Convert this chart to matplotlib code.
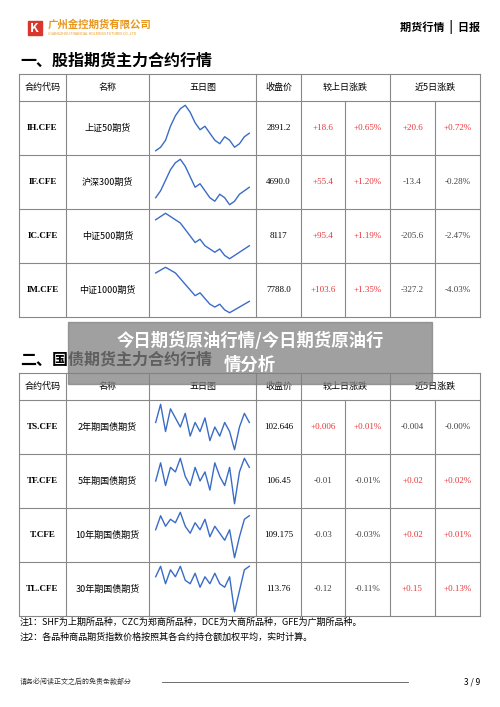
import matplotlib
matplotlib.use('Agg')
import matplotlib.pyplot as plt
from matplotlib.patches import Rectangle

plt.rcParams['font.family'] = ['Noto Sans CJK SC', 'DejaVu Sans']

# === 数据 ===
header = ['合约代码', '名称', '五日图', '收盘价', '较上日涨跌', '近5日涨跌']

codes1 = ['IH.CFE', 'IF.CFE', 'IC.CFE', 'IM.CFE']
names1 = ['上证50期货', '沪深300期货', '中证500期货', '中证1000期货']
close1 = ['2891.2', '4690.0', '8117', '7788.0']
chg1 = ['+18.6', '+55.4', '+95.4', '+103.6']
pct1 = ['+0.65%', '+1.20%', '+1.19%', '+1.35%']
chg5_1 = ['+20.6', '-13.4', '-205.6', '-327.2']
pct5_1 = ['+0.72%', '-0.28%', '-2.47%', '-4.03%']
spark1 = [
    [5, 6, 8, 12, 15, 17, 18, 16, 13, 11, 12, 10, 8, 7, 9, 8, 6, 7, 9, 10],
    [6, 8, 11, 14, 16, 17, 15, 12, 9, 10, 8, 6, 5, 7, 6, 4, 5, 7, 8, 9],
    [15, 16, 17, 16, 15, 14, 12, 10, 8, 9, 7, 6, 5, 6, 4, 3, 4, 5, 6, 7],
    [16, 17, 18, 17, 16, 14, 12, 10, 8, 9, 7, 5, 4, 5, 3, 2, 3, 4, 5, 6],
]

codes2 = ['TS.CFE', 'TF.CFE', 'T.CFE', 'TL.CFE']
names2 = ['2年期国债期货', '5年期国债期货', '10年期国债期货', '30年期国债期货']
close2 = ['102.646', '106.45', '109.175', '113.76']
chg2 = ['+0.006', '-0.01', '-0.03', '-0.12']
pct2 = ['+0.01%', '-0.01%', '-0.03%', '-0.11%']
chg5_2 = ['-0.004', '+0.02', '+0.02', '+0.15']
pct5_2 = ['-0.00%', '+0.02%', '+0.01%', '+0.13%']
spark2 = [
    [12, 16, 10, 15, 13, 11, 14, 9, 12, 10, 13, 8, 11, 9, 12, 10, 6, 11, 14, 12],
    [10, 14, 9, 13, 12, 15, 11, 9, 13, 10, 12, 8, 14, 11, 9, 13, 5, 12, 15, 13],
    [11, 15, 12, 14, 13, 16, 12, 10, 13, 11, 14, 9, 12, 10, 8, 11, 3, 9, 14, 15],
    [12, 15, 10, 14, 12, 15, 11, 10, 13, 9, 12, 10, 13, 10, 9, 12, 2, 8, 14, 15],
]

notes = ['注1：SHF为上期所品种，CZC为郑商所品种，DCE为大商所品种，GFE为广期所品种。',
         '注2：各品种商品期货指数价格按照其各合约持仓额加权平均，实时计算。']

RED = '#e8363a'
GRAY = '#444444'
xs = [19, 66, 149, 256, 301, 345, 390, 435, 480]

fig = plt.figure(figsize=(5, 7.07), dpi=100)
ax = fig.add_axes([0, 0, 1, 1])
ax.set_xlim(0, 500)
ax.set_ylim(707, 0)
ax.axis('off')

# 页眉
ax.add_patch(Rectangle((28, 21), 14, 14, color='#d9372b'))
ax.text(34, 28, 'K', color='white', fontsize=9, fontweight='bold', ha='center', va='center')
ax.text(48, 25, '广州金控期货有限公司', color='#e8961c', fontsize=7.5, fontweight='bold', va='center')
ax.text(48, 33, 'GUANGZHOU FINANCIAL HOLDINGS FUTURES CO.,LTD', color='#e8961c', fontsize=2.5, va='center')
ax.text(480, 27, '期货行情  |  日报', fontsize=8, ha='right', va='center', fontweight='bold')


def draw_table(top, title, codes, names, close, chg, pct, chg5, pct5, spark):
    ax.text(20, top - 13, title, fontsize=11.5, fontweight='bold', va='center')
    hb = top + 27
    rows = [hb + i * 54 for i in range(5)]
    lw = 0.8
    ax.plot([xs[0], xs[-1]], [top, top], color='#888', lw=lw)
    for y in rows:
        ax.plot([xs[0], xs[-1]], [y, y], color='#888', lw=lw)
    for i, x in enumerate(xs):
        y0 = hb if i in (5, 7) else top
        ax.plot([x, x], [y0, rows[-1]], color='#888', lw=lw)
    centers = [(xs[0] + xs[1]) / 2, (xs[1] + xs[2]) / 2, (xs[2] + xs[3]) / 2,
               (xs[3] + xs[4]) / 2, (xs[4] + xs[6]) / 2, (xs[6] + xs[8]) / 2]
    for c, h in zip(centers, header):
        ax.text(c, top + 13.5, h, fontsize=6.5, ha='center', va='center')
    for r in range(4):
        yc = (rows[r] + rows[r + 1]) / 2
        ax.text((xs[0] + xs[1]) / 2, yc, codes[r], fontsize=6.5, fontweight='bold',
                ha='center', va='center', family=['Liberation Serif'])
        ax.text((xs[1] + xs[2]) / 2, yc, names[r], fontsize=6.5, ha='center', va='center')
        ax.text((xs[3] + xs[4]) / 2, yc, close[r], fontsize=6.5, ha='center', va='center',
                family=['Liberation Serif'])
        for k, v in zip([4, 5, 6, 7], [chg[r], pct[r], chg5[r], pct5[r]]):
            col = RED if v.startswith('+') else GRAY
            ax.text((xs[k] + xs[k + 1]) / 2, yc, v, fontsize=6.5, ha='center', va='center',
                    color=col, family=['Liberation Serif'])
        sx = fig.add_axes([(xs[2] + 2) / 500, 1 - (rows[r + 1] - 2) / 707,
                           (xs[3] - xs[2] - 4) / 500, (rows[r + 1] - rows[r] - 4) / 707])
        sx.plot(spark[r], color='#3a6cc6', lw=1)
        sx.axis('off')


draw_table(74, '一、股指期货主力合约行情', codes1, names1, close1, chg1, pct1, chg5_1, pct5_1, spark1)
draw_table(373, '二、国债期货主力合约行情', codes2, names2, close2, chg2, pct2, chg5_2, pct5_2, spark2)

for i, n in enumerate(notes):
    ax.text(20, 622 + i * 15, n, fontsize=6.5, va='center')

ax.text(20, 682, '请务必阅读正文之后的免责条款部分', fontsize=5, va='center', color='#333')
ax.plot([162, 408], [682, 682], color='#555', lw=0.6)
ax.text(480, 682, '3 / 9', fontsize=6, ha='right', va='center')

# 遮罩标题
ov = fig.add_axes([0, 0, 1, 1], facecolor='none')
ov.set_xlim(0, 500)
ov.set_ylim(707, 0)
ov.axis('off')
ov.add_patch(Rectangle((68, 322), 364, 62, color='#808080', alpha=0.75))
ov.text(250, 341, '今日期货原油行情/今日期货原油行', fontsize=12.5, color='white',
        fontweight='bold', ha='center', va='center')
ov.text(250, 365, '情分析', fontsize=12.5, color='white', fontweight='bold', ha='center', va='center')

plt.savefig('out.png', dpi=100)
